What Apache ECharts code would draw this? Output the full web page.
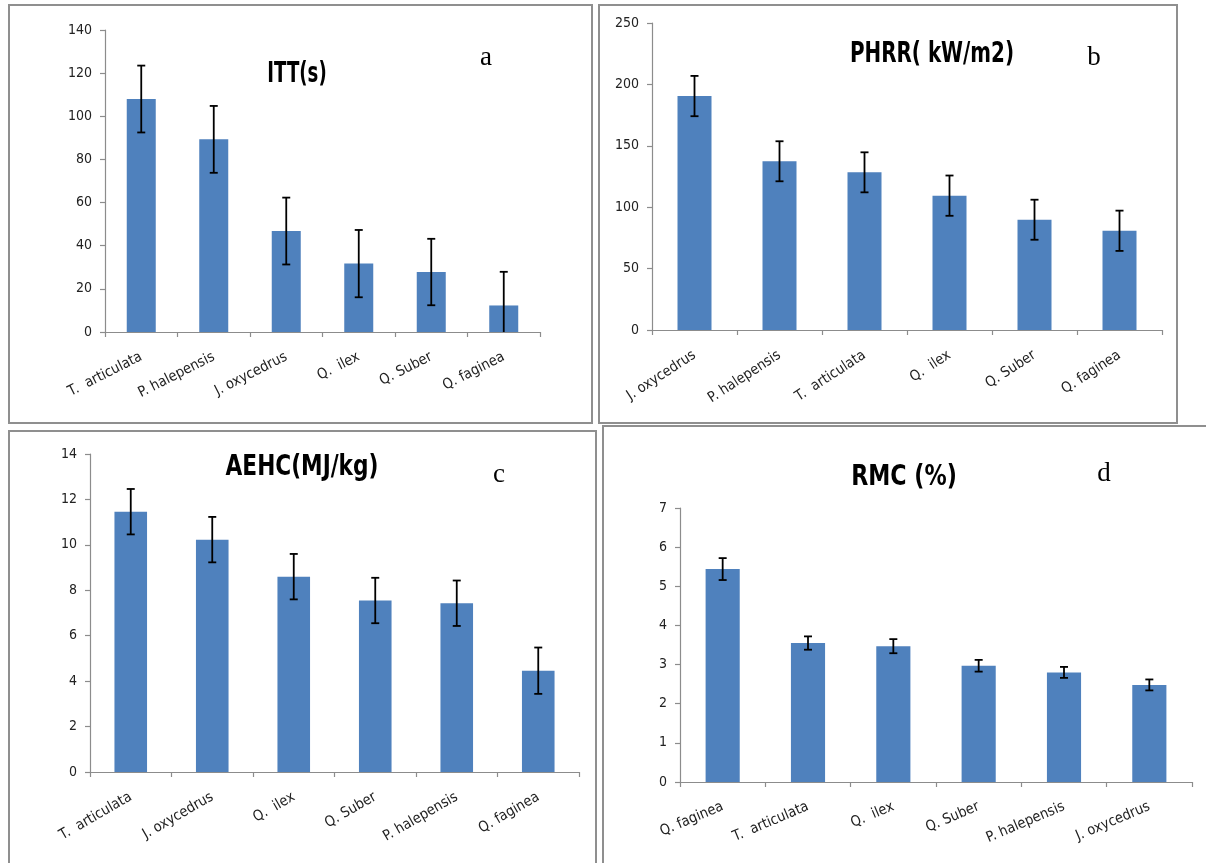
<!DOCTYPE html>
<html>
<head>
<meta charset="utf-8">
<script src="https://cdn.jsdelivr.net/npm/echarts@6/dist/echarts.min.js"></script>
<style>
html,body{margin:0;padding:0;background:#fff;}
#chart{width:1206px;height:863px;}
</style>
</head>
<body>
<div id="chart"></div>
<script>
// ---- data ----
const categoriesA = ['T.  articulata', 'P. halepensis', 'J. oxycedrus', 'Q.  ilex', 'Q. Suber', 'Q. faginea'];
const valuesA = [108, 89.3, 46.8, 31.7, 27.8, 12.3];
const errorsA = [15.5, 15.5, 15.5, 15.6, 15.4, 15.6];

const categoriesB = ['J. oxycedrus', 'P. halepensis', 'T.  articulata', 'Q.  ilex', 'Q. Suber', 'Q. faginea'];
const valuesB = [190.5, 137.4, 128.4, 109.4, 89.8, 80.8];
const errorsB = [16.4, 16.3, 16.3, 16.4, 16.3, 16.4];

const categoriesC = ['T.  articulata', 'J. oxycedrus', 'Q.  ilex', 'Q. Suber', 'P. halepensis', 'Q. faginea'];
const valuesC = [11.46, 10.23, 8.6, 7.55, 7.43, 4.46];
const errorsC = [1.0, 1.0, 1.0, 1.0, 1.0, 1.02];

const categoriesD = ['Q. faginea', 'T.  articulata', 'Q.  ilex', 'Q. Suber', 'P. halepensis', 'J. oxycedrus'];
const valuesD = [5.44, 3.55, 3.47, 2.97, 2.8, 2.48];
const errorsD = [0.28, 0.17, 0.18, 0.15, 0.14, 0.14];

const titles = ['ITT(s)', 'PHRR( kW/m2)', 'AEHC(MJ/kg)', 'RMC (%)'];
const letters = ['a', 'b', 'c', 'd'];
const yMax = [140, 250, 14, 7];
const yInterval = [20, 50, 2, 1];

// ---- layout / style ----
const FONT = "'Liberation Sans Narrow', 'DejaVu Sans Condensed', 'Liberation Sans', sans-serif";
const BAR = '#4f81bd';
const AXIS = '#8c8c8c';
const grids = [
  {left: 105, top: 30, width: 435, height: 302},
  {left: 652, top: 23, width: 510, height: 307},
  {left: 90, top: 454, width: 489, height: 318},
  {left: 680, top: 508, width: 512, height: 274}
];
const rotations = [27, 33, 30, 23];
const cats = [categoriesA, categoriesB, categoriesC, categoriesD];
const vals = [valuesA, valuesB, valuesC, valuesD];
const errs = [errorsA, errorsB, errorsC, errorsD];

function errRender(params, api) {
  const i = api.value(0), v = api.value(1), e = api.value(2);
  const hiV = v + e;
  const loRaw = v - e;
  const loV = Math.max(loRaw, 0);
  const hi = api.coord([i, hiV]);
  const lo = api.coord([i, loV]);
  const cw = 4;
  const style = {stroke: '#000', lineWidth: 1.8};
  const children = [
    {type: 'line', shape: {x1: hi[0], y1: hi[1], x2: lo[0], y2: lo[1]}, style: style},
    {type: 'line', shape: {x1: hi[0] - cw, y1: hi[1], x2: hi[0] + cw, y2: hi[1]}, style: style}
  ];
  if (loRaw >= 0) {
    children.push({type: 'line', shape: {x1: lo[0] - cw, y1: lo[1], x2: lo[0] + cw, y2: lo[1]}, style: style});
  }
  return {type: 'group', children: children};
}

const xAxes = [], yAxes = [], series = [];
for (let k = 0; k < 4; k++) {
  xAxes.push({
    type: 'category', gridIndex: k, data: cats[k],
    axisLine: {lineStyle: {color: AXIS, width: 1.2}},
    axisTick: {show: true, length: 5, lineStyle: {color: AXIS, width: 1.2}},
    axisLabel: {rotate: rotations[k], margin: 24, color: '#222', fontSize: 14.5, fontFamily: FONT, interval: 0}
  });
  yAxes.push({
    type: 'value', gridIndex: k, min: 0, max: yMax[k], interval: yInterval[k],
    axisLine: {show: true, lineStyle: {color: AXIS, width: 1.2}},
    axisTick: {show: true, length: 5, lineStyle: {color: AXIS, width: 1.2}},
    splitLine: {show: false},
    axisLabel: {margin: 13, color: '#222', fontSize: 14, fontFamily: FONT}
  });
  series.push({
    type: 'bar', xAxisIndex: k, yAxisIndex: k, data: vals[k], barWidth: '40%',
    itemStyle: {color: BAR}, silent: true, animation: false
  });
  series.push({
    type: 'custom', xAxisIndex: k, yAxisIndex: k, renderItem: errRender, clip: false, z: 5,
    encode: {x: 0, y: 1},
    data: cats[k].map((c, i) => [i, vals[k][i], errs[k][i]]),
    silent: true, animation: false
  });
}

const borders = [
  {x: 9, y: 5, width: 583, height: 418},
  {x: 599, y: 5, width: 578, height: 418},
  {x: 9, y: 431, width: 587, height: 460},
  {x: 603, y: 426, width: 640, height: 460}
];
const titlePos = [[297, 75], [932, 55], [302, 468], [904, 478]];
const titleScaleX = [0.72, 0.79, 0.86, 0.88];
const letterPos = [[486, 58], [1094, 58], [499, 475], [1104, 474]];

const graphic = [];
borders.forEach(b => graphic.push({
  type: 'rect', shape: b, style: {fill: 'none', stroke: '#8f8f8f', lineWidth: 2}, silent: true, z: -1
}));
titles.forEach((t, k) => graphic.push({
  type: 'text', x: titlePos[k][0], y: titlePos[k][1], scaleX: titleScaleX[k],
  style: {text: t, fill: '#000', font: "bold 28px " + FONT, textAlign: 'center', textVerticalAlign: 'middle'}
}));
letters.forEach((t, k) => graphic.push({
  type: 'text', x: letterPos[k][0], y: letterPos[k][1],
  style: {text: t, fill: '#000', font: "27px 'Liberation Serif', 'DejaVu Serif', serif", textAlign: 'center', textVerticalAlign: 'middle'}
}));

const chart = echarts.init(document.getElementById('chart'));
chart.setOption({
  animation: false,
  backgroundColor: '#fff',
  grid: grids.map(g => Object.assign({containLabel: false}, g)),
  xAxis: xAxes,
  yAxis: yAxes,
  series: series,
  graphic: graphic
});
</script>
</body>
</html>
